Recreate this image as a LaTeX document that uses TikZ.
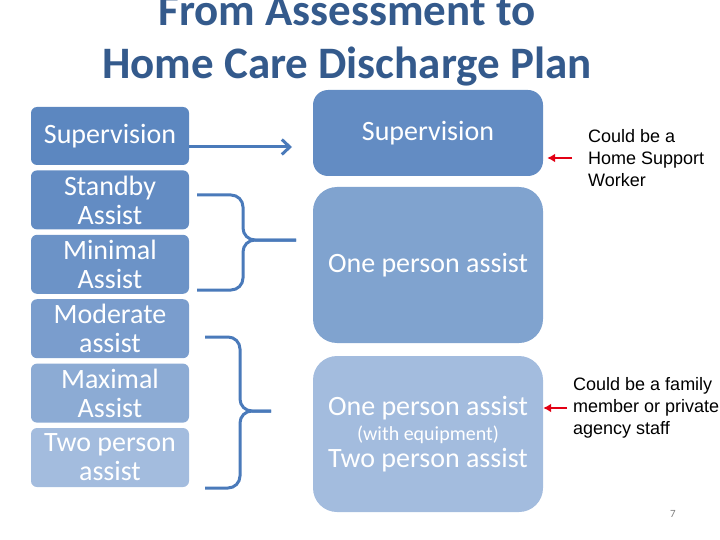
\documentclass[tikz,border=0pt]{standalone}
\usepackage{fontspec}
\setmainfont{Carlito}
\newfontfamily\notefont{Liberation Sans}
\usetikzlibrary{arrows,arrows.meta,positioning}

\definecolor{titleblue}{RGB}{52,90,140}
\definecolor{linkblue}{RGB}{74,122,186}
\definecolor{boxa}{RGB}{92,135,192}
\definecolor{boxb}{RGB}{99,140,195}
\definecolor{boxc}{RGB}{108,147,199}
\definecolor{boxd}{RGB}{122,157,205}
\definecolor{boxe}{RGB}{140,171,212}
\definecolor{boxf}{RGB}{163,188,222}
\definecolor{boxg}{RGB}{128,163,207}
\definecolor{notered}{RGB}{226,0,20}

\tikzset{
	lbox/.style={rounded corners=6pt,minimum width=158pt,minimum height=59pt,inner sep=0pt,
		text=white,align=center,font=\fontsize{28}{29}\selectfont},
	rbox/.style={rounded corners=24pt,minimum width=230pt,minimum height=156pt,inner sep=0pt,
		text=white,align=center,font=\fontsize{28}{29}\selectfont},
	brace/.style={draw=linkblue,line width=3pt,rounded corners=12pt},
	notearrow/.style={-{Latex[length=8pt,width=9pt]},draw=notered,line width=2.5pt},
	note/.style={inner sep=0pt,align=left,anchor=west,font=\notefont\fontsize{18}{22}\selectfont}
}

\begin{document}
\begin{tikzpicture}[x=1pt,y=-1pt,node distance=5pt]

\useasboundingbox (0,0) rectangle (720,540);

\node[text=titleblue,align=center,font=\bfseries\fontsize{45}{53}\selectfont] (title)
	at (347,41) {From Assessment to\\Home Care Discharge Plan};

\node[lbox,fill=boxa,minimum height=58pt] (lsup) at (110,136) {Supervision};
\node[lbox,fill=boxb,below=of lsup] (lstandby) {Standby\\Assist};
\node[lbox,fill=boxc,below=of lstandby] (lminimal) {Minimal\\Assist};
\node[lbox,fill=boxd,below=of lminimal] (lmoderate) {Moderate\\assist};
\node[lbox,fill=boxe,below=of lmoderate] (lmaximal) {Maximal\\Assist};
\node[lbox,fill=boxf,below=of lmaximal] (ltwo) {Two person\\assist};

\node[rbox,fill=boxb,rounded corners=15pt,minimum height=86pt] (rsup) at (428,133) {Supervision};
\node[rbox,fill=boxg] (rone) at (428,265) {One person assist};
\node[rbox,fill=boxf] (rtwo) at (428,434)
	{One person assist\\[-4pt]{\fontsize{20}{22}\selectfont(with equipment)}\\[-2pt]Two person assist};

\coordinate (suptip) at (292,147);
\draw[-{Straight Barb[length=8pt,width=15pt]},draw=linkblue,line width=3pt] (lsup.east |- suptip) -- (suptip);

\draw[brace] (197,195) -- (243,195) -- (243,240) -- (296,240);
\draw[brace] (197,290) -- (243,290) -- (243,240) -- (296,240);
\draw[brace] (205,337) -- (240,337) -- (240,411) -- (271,411);
\draw[brace] (205,488) -- (240,488) -- (240,411) -- (271,411);

\node[note] (notehsw) at (588,158) {Could be a\\Home Support\\Worker};
\node[note] (notefam) at (573,408) {Could be a family\\member or private\\agency staff};

\draw[notearrow,shorten <=16pt,shorten >=4pt] (notehsw.west) -- (notehsw.west -| rsup.east);
\draw[notearrow,shorten <=6pt] (notefam.west) -- (notefam.west -| rtwo.east);

\node[text=gray,font=\fontsize{11}{13}\selectfont] (pagenum) at (673,514) {7};

\end{tikzpicture}
\end{document}
